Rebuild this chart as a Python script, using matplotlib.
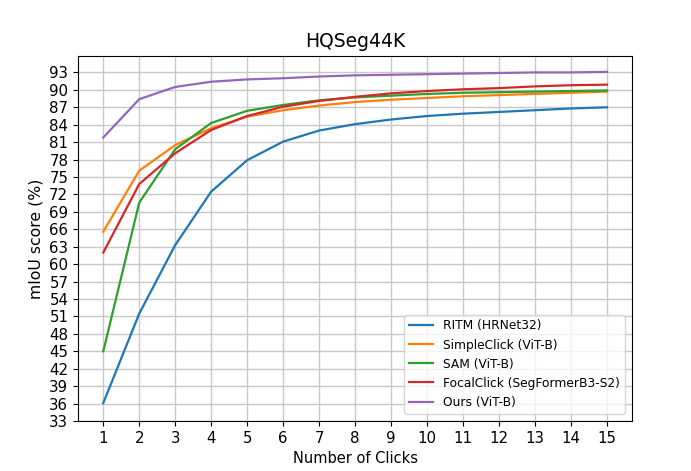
import numpy as np
from matplotlib import pyplot as plt

clicks = list(range(1, 16))

ritm = [36.1, 51.5, 63.3, 72.5, 77.9, 81.1, 83.0, 84.1, 84.9, 85.5, 85.9, 86.2, 86.5, 86.8, 87.0]
simpleclick = [65.6, 76.1, 80.5, 83.4, 85.4, 86.5, 87.3, 87.9, 88.3, 88.6, 88.9, 89.1, 89.3, 89.5, 89.7]
sam = [45.0, 70.6, 79.8, 84.3, 86.4, 87.4, 88.2, 88.7, 89.0, 89.3, 89.5, 89.6, 89.7, 89.8, 89.9]
focalclick = [62.0, 73.8, 79.1, 83.1, 85.5, 87.1, 88.1, 88.8, 89.4, 89.8, 90.1, 90.3, 90.6, 90.8, 90.9]
ours = [81.8, 88.4, 90.5, 91.4, 91.8, 92.0, 92.3, 92.5, 92.6, 92.7, 92.8, 92.9, 93.0, 93.0, 93.1]

series = [
    ('RITM (HRNet32)', ritm),
    ('SimpleClick (ViT-B)', simpleclick),
    ('SAM (ViT-B)', sam),
    ('FocalClick (SegFormerB3-S2)', focalclick),
    ('Ours (ViT-B)', ours),
]

fig = plt.figure(figsize=(6.91, 4.71), dpi=100)
ax = fig.add_axes([0.113, 0.106, 0.802, 0.776])

for name, vals in series:
    ax.plot(clicks, vals, label=name, linewidth=1.6)

ax.set_xticks(clicks)
ax.set_yticks(np.arange(33, 94, 3))
ax.set_ylim(33, 95.9)
ax.tick_params(labelsize=10.8)
ax.grid(True, color='#c8c8c8', linewidth=1.0)

ax.set_title('HQSeg44K', fontsize=13.5)
ax.set_xlabel('Number of Clicks', fontsize=10.5)
ax.set_ylabel('mIoU score (%)', fontsize=11.3)
ax.legend(loc='lower right', fontsize=8.8, borderaxespad=0.6)

plt.savefig('out.png', dpi=100)
